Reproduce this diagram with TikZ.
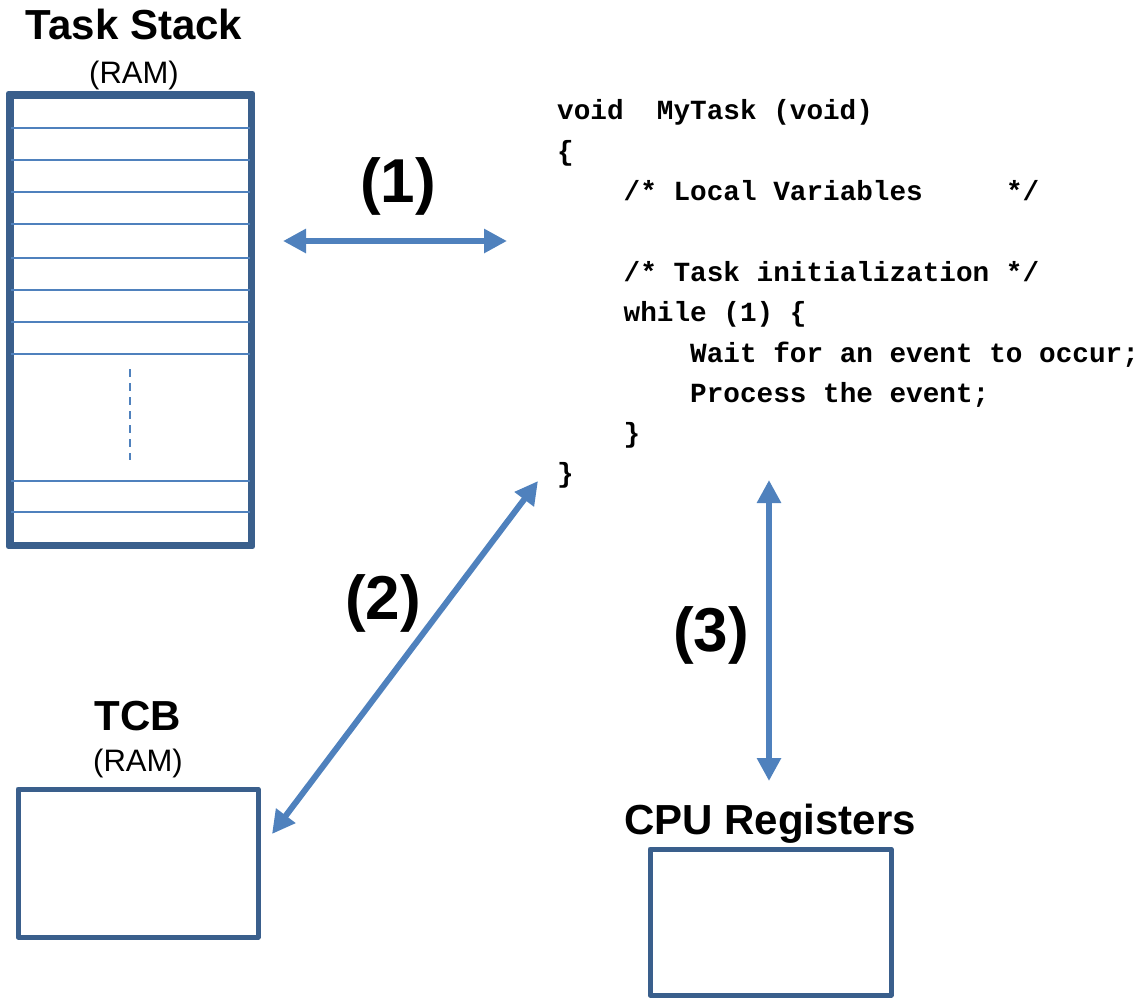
\documentclass[tikz,border=0pt]{standalone}
\usepackage{fontspec}
\setmainfont{Liberation Sans}
\newfontfamily\codefont{Liberation Mono}
\usetikzlibrary{arrows.meta}
\definecolor{boxblue}{RGB}{58,95,140}
\definecolor{arrblue}{RGB}{79,129,189}
\tikzset{
  boxstyle/.style={draw=boxblue, line width=5pt, line join=round, fill=white, inner sep=0pt},
  slotline/.style={draw=arrblue, line width=2.2pt},
  bigarrow/.style={draw=arrblue, line width=6pt, {Triangle[length=23pt,width=23pt]}-{Triangle[length=23pt,width=23pt]}},
  title/.style={font=\fontsize{42}{48}\selectfont\bfseries, anchor=base, inner sep=0pt},
  sub/.style={font=\fontsize{31}{36}\selectfont, anchor=base, inner sep=0pt},
  num/.style={font=\fontsize{62}{70}\selectfont\bfseries, inner sep=0pt},
  code/.style={font=\codefont\bfseries\fontsize{27.7}{32}\selectfont, anchor=base west, inner sep=0pt}
}
\begin{document}
\begin{tikzpicture}[x=1pt,y=-1pt]
\useasboundingbox (0,0) rectangle (1140,997);
% Task stack
\node[title] (tstitle) at (134,39) {Task Stack};
\node[sub] (tsram) at (134,83) {(RAM)};
\node[boxstyle, minimum width=239pt, minimum height=448pt] (stack) at (130.5,320) {};
\foreach \yy in {128,160,192,224,258,290,322,354,481,512}{
  \draw[slotline] (stack.west |- 0,\yy) -- (stack.east |- 0,\yy);
}
\coordinate (dtop) at (130,369);
\coordinate (dbot) at (130,460);
\draw[draw=arrblue, line width=2pt, dash pattern=on 8pt off 6pt] (dtop) -- (dbot);
\draw[boxblue, line width=5pt, line join=round] (stack.north west) rectangle (stack.south east);

% code
\node[code] (c1) at (557,119) {void\ \ MyTask (void)};
\node[code] (c2) at (557,160) {\{};
\node[code] (c3) at (557,200) {\ \ \ \ /* Local Variables\ \ \ \ \ */};
\node[code] (c4) at (557,281) {\ \ \ \ /* Task initialization */};
\node[code] (c5) at (557,321) {\ \ \ \ while (1) \{};
\node[code] (c6) at (557,362) {\ \ \ \ \ \ \ \ Wait for an event to occur;};
\node[code] (c7) at (557,402) {\ \ \ \ \ \ \ \ Process the event;};
\node[code] (c8) at (557,442) {\ \ \ \ \}};
\node[code] (c9) at (557,482) {\}};

% TCB
\node[title] (tcbtitle) at (138,730) {TCB};
\node[sub] (tcbram) at (138,771) {(RAM)};
\node[boxstyle, minimum width=240pt, minimum height=148pt] (tcb) at (138,863) {};

% CPU registers
\node[title] (cputitle) at (770,834) {CPU Registers};
\node[boxstyle, minimum width=241pt, minimum height=146pt] (cpu) at (770.5,922) {};

% arrows
\coordinate (a1l) at (283,241);
\coordinate (a1r) at (507,241);
\draw[bigarrow] (a1l) -- (a1r);
\node[num] (n1) at (398,186) {(1)};

\coordinate (a2l) at (272,834);
\coordinate (a2r) at (538,481);
\draw[bigarrow] (a2l) -- (a2r);
\node[num] (n2) at (383,603) {(2)};

\coordinate (a3t) at (769,480);
\coordinate (a3b) at (769,781);
\draw[bigarrow] (a3t) -- (a3b);
\node[num] (n3) at (711,635) {(3)};
\end{tikzpicture}
\end{document}
